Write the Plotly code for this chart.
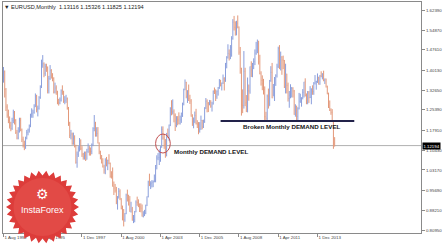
import math
import plotly.graph_objects as go

# ---------------- data ----------------
tick_index = [0, 32, 64, 96, 128, 160, 192, 224, 256]
tick_labels = ["1 Aug 1992", "1 Apr 1995", "1 Dec 1997", "1 Aug 2000", "1 Apr 2003",
               "1 Dec 2005", "1 Aug 2008", "1 Apr 2011", "1 Dec 2013"]
price_ticks = [1.62390, 1.54870, 1.47610, 1.40130, 1.32650, 1.25390, 1.17910,
               1.10430, 1.03170, 0.95690, 0.88210, 0.80950]

first_open = 1.3650
closes = [
    1.3950, 1.3300, 1.2650, 1.2350, 1.2150,
    1.1950, 1.1850, 1.2150, 1.2450, 1.2150, 1.1700, 1.1500, 1.1750, 1.2150, 1.1800, 1.1450, 1.1250,
    1.1200, 1.1500, 1.1700, 1.1800, 1.1950, 1.2350, 1.2400, 1.2450, 1.2650, 1.3050, 1.2550, 1.2600,
    1.3000, 1.3400, 1.4200, 1.4250, 1.3900, 1.4150, 1.4100, 1.3250, 1.3700, 1.4000, 1.3800, 1.3700,
    1.3200, 1.3350, 1.3200, 1.2800, 1.2800, 1.2900, 1.3250, 1.3200, 1.2850, 1.2900, 1.2950, 1.2600,
    1.2050, 1.1600, 1.1650, 1.1300, 1.1500, 1.1200, 1.0600, 1.0900, 1.1100, 1.1400, 1.1100, 1.0900,
    1.0800, 1.0850, 1.0700, 1.1000, 1.1100, 1.1000, 1.1000, 1.1250, 1.1850, 1.2050, 1.1600, 1.1670,
    1.1305, 1.0988, 1.0767, 1.0576, 1.0427, 1.0321, 1.0675, 1.0575, 1.0668, 1.0568, 1.0085, 1.0070,
    0.9710, 0.9646, 0.9565, 0.9134, 0.9327, 0.9523, 0.9264, 0.8886, 0.8832, 0.8490, 0.8712, 0.9388,
    0.9378, 0.9213, 0.8775, 0.8870, 0.8455, 0.8483, 0.8768, 0.9124, 0.9110, 0.9032, 0.8950, 0.8900,
    0.8600, 0.8680, 0.8720, 0.9015, 0.9335, 0.9875, 0.9775, 0.9810, 0.9860, 0.9885, 0.9925, 1.0485,
    1.0760, 1.0775, 1.0910, 1.1160, 1.1820, 1.1500, 1.1240, 1.0975, 1.1650, 1.1600, 1.1980, 1.2590,
    1.2460, 1.2470, 1.2320, 1.1960, 1.2200, 1.2170, 1.2025, 1.2170, 1.2420, 1.2760, 1.3290, 1.3560,
    1.3040, 1.3250, 1.2960, 1.2870, 1.2300, 1.2100, 1.2130, 1.2340, 1.2030, 1.1990, 1.1790, 1.1840,
    1.2150, 1.1920, 1.2120, 1.2620, 1.2860, 1.2790, 1.2760, 1.2810, 1.2680, 1.2760, 1.3240, 1.3200,
    1.3030, 1.3240, 1.3360, 1.3650, 1.3450, 1.3540, 1.3690, 1.3630, 1.4260, 1.4490, 1.4630, 1.4590,
    1.4860, 1.5180, 1.5790, 1.5600, 1.5540, 1.5750, 1.5610, 1.4680, 1.4080, 1.2720, 1.2700, 1.3970,
    1.2800, 1.2670, 1.3250, 1.3240, 1.4150, 1.4030, 1.4250, 1.4330, 1.4640, 1.4720, 1.4990, 1.4320,
    1.3870, 1.3630, 1.3510, 1.3290, 1.2290, 1.2230, 1.3050, 1.2680, 1.3630, 1.3930, 1.2990, 1.3380,
    1.3690, 1.3800, 1.4160, 1.4810, 1.4390, 1.4500, 1.4390, 1.4370, 1.3390, 1.3870, 1.3450, 1.2960,
    1.3080, 1.3340, 1.3340, 1.3240, 1.2370, 1.2660, 1.2300, 1.2580, 1.2860, 1.2970, 1.2990, 1.3190,
    1.3580, 1.3060, 1.2820, 1.3170, 1.2990, 1.3010, 1.3300, 1.3220, 1.3530, 1.3580, 1.3590, 1.3740,
    1.3490, 1.3800, 1.3770, 1.3870, 1.3630, 1.3690, 1.3390, 1.3130, 1.2630, 1.2530, 1.2450, 1.2100,
    1.13116, 1.12194,
]
highs = [
    1.4130, 1.4000, 1.3350, 1.2750, 1.2550,
    1.2300, 1.2100, 1.2250, 1.2550, 1.2500, 1.2200, 1.1800, 1.1900, 1.2250, 1.2250, 1.1850, 1.1550,
    1.1400, 1.1550, 1.1800, 1.1850, 1.2000, 1.2400, 1.2600, 1.2550, 1.2750, 1.3150, 1.3100, 1.2700,
    1.3050, 1.3450, 1.4400, 1.4570, 1.4300, 1.4250, 1.4250, 1.4150, 1.3800, 1.4200, 1.4050, 1.3900,
    1.3750, 1.3550, 1.3450, 1.3250, 1.2950, 1.3000, 1.3300, 1.3450, 1.3250, 1.3050, 1.3100, 1.3000,
    1.2650, 1.2100, 1.1800, 1.1700, 1.1700, 1.1600, 1.1250, 1.1000, 1.1200, 1.1500, 1.1450, 1.1200,
    1.0950, 1.1000, 1.1000, 1.1100, 1.1300, 1.1200, 1.1150, 1.1300, 1.1900, 1.2350, 1.2100, 1.1900,
    1.1904, 1.1340, 1.1030, 1.0870, 1.0750, 1.0510, 1.0750, 1.0800, 1.0700, 1.0900, 1.0590, 1.0270,
    1.0410, 0.9890, 0.9800, 0.9690, 0.9350, 0.9650, 0.9600, 0.9270, 0.9000, 0.8870, 0.8720, 0.9440,
    0.9590, 0.9400, 0.9350, 0.9140, 0.8950, 0.8650, 0.8800, 0.9190, 0.9330, 0.9230, 0.9080, 0.9080,
    0.9040, 0.8790, 0.8840, 0.9030, 0.9340, 0.9920, 1.0180, 0.9900, 0.9940, 0.9930, 1.0150, 1.0500,
    1.0860, 1.0940, 1.1080, 1.1200, 1.1930, 1.1930, 1.1650, 1.1460, 1.1690, 1.1850, 1.2000, 1.2640,
    1.2900, 1.2930, 1.2560, 1.2410, 1.2310, 1.2310, 1.2450, 1.2330, 1.2440, 1.2810, 1.3330, 1.3667,
    1.3580, 1.3270, 1.3480, 1.3100, 1.2940, 1.2380, 1.2260, 1.2480, 1.2580, 1.2160, 1.2090, 1.2090,
    1.2330, 1.2170, 1.2180, 1.2640, 1.2980, 1.2930, 1.2830, 1.2910, 1.2900, 1.2840, 1.3260, 1.3370,
    1.3300, 1.3260, 1.3390, 1.3680, 1.3650, 1.3550, 1.3850, 1.3750, 1.4280, 1.4530, 1.4970, 1.4780,
    1.4940, 1.5270, 1.5900, 1.6020, 1.5820, 1.5840, 1.6038, 1.5630, 1.4870, 1.4100, 1.3300, 1.4719,
    1.4100, 1.3090, 1.3740, 1.3480, 1.4150, 1.4340, 1.4280, 1.4450, 1.4780, 1.5060, 1.5145, 1.5100,
    1.4580, 1.3970, 1.3820, 1.3690, 1.3410, 1.2470, 1.3110, 1.3330, 1.3650, 1.4160, 1.4280, 1.3500,
    1.3760, 1.3860, 1.4250, 1.4880, 1.4940, 1.4700, 1.4530, 1.4550, 1.4390, 1.4250, 1.3880, 1.3550,
    1.3240, 1.3490, 1.3390, 1.3380, 1.3280, 1.2750, 1.2700, 1.2640, 1.3170, 1.3140, 1.3010, 1.3310,
    1.3580, 1.3710, 1.3150, 1.3240, 1.3240, 1.3420, 1.3340, 1.3450, 1.3570, 1.3830, 1.3620, 1.3890,
    1.3770, 1.3830, 1.3970, 1.3900, 1.3993, 1.3700, 1.3700, 1.3440, 1.3180, 1.2890, 1.2600, 1.2570,
    1.2100, 1.15326,
]
lows = [
    1.3550, 1.3000, 1.2500, 1.2250, 1.2050,
    1.1850, 1.1750, 1.1800, 1.2050, 1.2000, 1.1650, 1.1450, 1.1450, 1.1700, 1.1750, 1.1350, 1.1150,
    1.1050, 1.1100, 1.1450, 1.1600, 1.1700, 1.1900, 1.2250, 1.2250, 1.2400, 1.2650, 1.2450, 1.2300,
    1.2550, 1.2950, 1.3350, 1.4100, 1.3750, 1.3800, 1.3950, 1.3150, 1.3150, 1.3650, 1.3700, 1.3600,
    1.3150, 1.3150, 1.3100, 1.2750, 1.2700, 1.2750, 1.2850, 1.3100, 1.2800, 1.2750, 1.2800, 1.2550,
    1.1950, 1.1500, 1.1450, 1.1250, 1.1250, 1.1150, 1.0550, 1.0400, 1.0800, 1.1000, 1.1050, 1.0800,
    1.0700, 1.0700, 1.0650, 1.0700, 1.0950, 1.0850, 1.0850, 1.0900, 1.1200, 1.1750, 1.1550, 1.1550,
    1.1300, 1.0900, 1.0710, 1.0560, 1.0410, 1.0180, 1.0160, 1.0450, 1.0310, 1.0530, 1.0030, 1.0000,
    0.9700, 0.9390, 0.9480, 0.9050, 0.8850, 0.9260, 0.9200, 0.8860, 0.8450, 0.8228, 0.8400, 0.8680,
    0.9150, 0.9000, 0.8770, 0.8740, 0.8440, 0.8350, 0.8380, 0.8750, 0.8990, 0.8940, 0.8760, 0.8750,
    0.8590, 0.8560, 0.8610, 0.8680, 0.8980, 0.9300, 0.9720, 0.9610, 0.9670, 0.9680, 0.9860, 0.9860,
    1.0340, 1.0680, 1.0500, 1.0620, 1.1140, 1.1440, 1.1100, 1.0770, 1.0820, 1.1500, 1.1400, 1.1940,
    1.2340, 1.2370, 1.2080, 1.1760, 1.1900, 1.1970, 1.2010, 1.2000, 1.2060, 1.2280, 1.2710, 1.3270,
    1.2970, 1.2800, 1.2870, 1.2760, 1.2290, 1.1950, 1.1860, 1.2050, 1.2000, 1.1870, 1.1640, 1.1700,
    1.1800, 1.1820, 1.1870, 1.2060, 1.2570, 1.2450, 1.2460, 1.2710, 1.2620, 1.2480, 1.2740, 1.3130,
    1.2870, 1.2950, 1.3070, 1.3320, 1.3410, 1.3260, 1.3500, 1.3260, 1.3580, 1.4080, 1.4440, 1.4370,
    1.4420, 1.4510, 1.5140, 1.5480, 1.5290, 1.5300, 1.5560, 1.4580, 1.3880, 1.2330, 1.2420, 1.2590,
    1.2680, 1.2460, 1.2450, 1.2880, 1.3140, 1.3760, 1.3750, 1.4050, 1.4200, 1.4580, 1.4640, 1.4220,
    1.3860, 1.3440, 1.3270, 1.3110, 1.2140, 1.2120, 1.2150, 1.2590, 1.2690, 1.3580, 1.2970, 1.3040,
    1.2870, 1.3430, 1.3740, 1.4090, 1.4050, 1.4000, 1.3840, 1.4050, 1.3350, 1.3150, 1.3150, 1.2850,
    1.2620, 1.2970, 1.3000, 1.3000, 1.2360, 1.2290, 1.2150, 1.2130, 1.2560, 1.2800, 1.2660, 1.2930,
    1.3000, 1.3040, 1.2750, 1.2750, 1.2800, 1.2980, 1.2750, 1.3100, 1.3100, 1.3480, 1.3290, 1.3540,
    1.3480, 1.3470, 1.3750, 1.3670, 1.3600, 1.3500, 1.3370, 1.3120, 1.2610, 1.2500, 1.2360, 1.2100,
    1.1100, 1.11825,
]
opens = [first_open] + closes[:-1]
bar_index = list(range(len(closes)))

current_price = 1.12194
broken_level = 1.2130
broken_span = [177, 286]
circle_box = [124, 136, 1.0945, 1.1648]
title_text = "\u25bc EURUSD,Monthly  1.13116 1.15326 1.11825 1.12194"

# ---------------- figure ----------------
UP = "#8a9edc"
DOWN = "#e3987a"
AX = "#8a8a8a"
TXT = "#444444"

fig = go.Figure()
fig.add_trace(go.Ohlc(
    x=bar_index, open=opens, high=highs, low=lows, close=closes,
    increasing=dict(line=dict(color=UP, width=1)),
    decreasing=dict(line=dict(color=DOWN, width=1)),
    tickwidth=0.2, hoverinfo="skip", showlegend=False,
))

# current price line
fig.add_shape(type="line", xref="paper", x0=0, x1=1, yref="y",
              y0=current_price, y1=current_price,
              line=dict(color="#b0b0b0", width=1), layer="below")
# broken demand line
fig.add_shape(type="line", xref="x", x0=broken_span[0], x1=broken_span[1], yref="y",
              y0=broken_level, y1=broken_level,
              line=dict(color="#22224a", width=2))
# circle
fig.add_shape(type="circle", xref="x", yref="y",
              x0=circle_box[0], x1=circle_box[1], y0=circle_box[2], y1=circle_box[3],
              line=dict(color="#c25050", width=1))

# InstaForex badge (decorative star)
n_sp = 30
r_out, r_in = 36.5, 31.5
pts = []
for i in range(2 * n_sp):
    r = r_out if i % 2 == 0 else r_in
    a = math.pi * i / n_sp
    pts.append((r * math.cos(a), r * math.sin(a)))
path = "M " + " L ".join(f"{px:.2f},{py:.2f}" for px, py in pts) + " Z"
cx = (42.5 - 3) / 418
cy = (233 - 207) / 231
fig.add_shape(type="path", xref="paper", yref="paper", xsizemode="pixel", ysizemode="pixel",
              xanchor=cx, yanchor=cy, path=path,
              fillcolor="#dd3c3a", line=dict(width=0), layer="above")
fig.add_shape(type="circle", xref="paper", yref="paper", xsizemode="pixel", ysizemode="pixel",
              xanchor=cx, yanchor=cy, x0=-29, x1=29, y0=-29, y1=29,
              fillcolor="#e24a46", line=dict(width=0), layer="above")

annotations = [
    dict(text=title_text, xref="paper", yref="paper", x=0, y=(233 - 7) / 231,
         xanchor="left", yanchor="middle", xshift=-1, showarrow=False,
         font=dict(family="Liberation Sans", size=5.6, color="#222222")),
    dict(text="<b>Broken Monthly DEMAND LEVEL</b>", xref="paper", yref="paper",
         x=(241 - 3) / 418, y=(233 - 126) / 231, xanchor="left", yanchor="middle",
         showarrow=False, font=dict(family="Liberation Sans", size=6.2, color="#151515")),
    dict(text="<b>Monthly DEMAND LEVEL</b>", xref="paper", yref="paper",
         x=(172 - 3) / 418, y=(233 - 151) / 231, xanchor="left", yanchor="middle",
         showarrow=False, font=dict(family="Liberation Sans", size=6.2, color="#151515")),
    dict(text=f"{current_price:.5f}", xref="paper", yref="y", x=1, y=current_price,
         xanchor="left", yanchor="middle", xshift=1, showarrow=False,
         bgcolor="#000000", borderpad=0.5,
         font=dict(family="Liberation Sans", size=4.3, color="#ffffff")),
    dict(text="\u2699", xref="paper", yref="paper", x=cx, y=(233 - 194) / 231,
         xanchor="center", yanchor="middle", showarrow=False,
         font=dict(family="DejaVu Sans", size=14, color="#ffffff")),
    dict(text="InstaForex", xref="paper", yref="paper", x=cx, y=(233 - 210) / 231,
         xanchor="center", yanchor="middle", showarrow=False,
         font=dict(family="Liberation Sans", size=9, color="#ffffff")),
]

fig.update_layout(
    width=448, height=245,
    margin=dict(l=3, r=27, t=2, b=12, pad=0),
    paper_bgcolor="white", plot_bgcolor="white",
    showlegend=False,
    annotations=annotations,
    font=dict(family="Liberation Sans", size=4.2, color=TXT),
)
fig.update_xaxes(
    range=[-0.4, 340.4], rangeslider=dict(visible=False),
    tickmode="array", tickvals=tick_index, ticktext=tick_labels,
    ticks="outside", ticklen=3, tickcolor=AX, tickwidth=1,
    ticklabelposition="outside right",
    tickfont=dict(family="Liberation Sans", size=4.4, color=TXT),
    showgrid=False, zeroline=False,
    showline=True, linecolor=AX, linewidth=1, mirror=True,
)
fig.update_yaxes(
    range=[0.79839, 1.65351], side="right",
    tickmode="array", tickvals=price_ticks, ticktext=[f"{v:.5f}" for v in price_ticks],
    ticks="outside", ticklen=3, tickcolor=AX, tickwidth=1,
    tickfont=dict(family="Liberation Sans", size=4.4, color=TXT),
    showgrid=False, zeroline=False,
    showline=True, linecolor=AX, linewidth=1, mirror=True,
)

fig.write_html("out.html")
